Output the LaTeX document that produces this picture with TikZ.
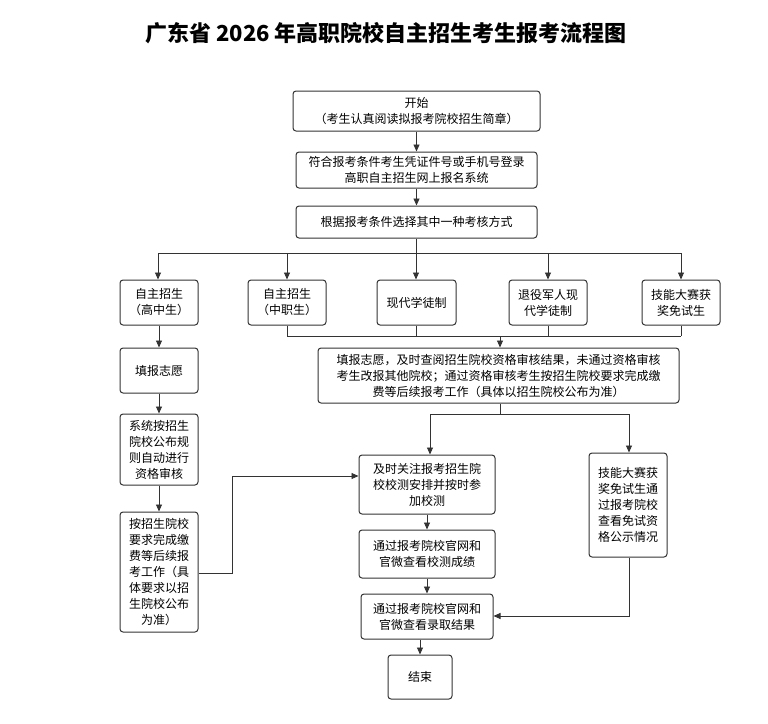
\documentclass[tikz,border=0pt]{standalone}
\usepackage{fontspec}
\setmainfont{Noto Sans CJK SC}
\usetikzlibrary{arrows.meta}
\begin{document}
\begin{tikzpicture}[x=1pt,y=-1pt,
  bx/.style={draw=black!80,line width=1pt,rounded corners=3pt,align=center,inner sep=0pt,font=\fontsize{12}{16}\selectfont},
  ar/.style={-{Triangle[length=7pt,width=6pt]},line width=0.9pt,draw=black!80},
  ln/.style={line width=0.9pt,draw=black!80}]
\useasboundingbox (0,0) rectangle (768,723);
\node[font=\bfseries\fontsize{22}{24}\selectfont] (title) at (386,33) {广东省 2026 年高职院校自主招生考生报考流程图};
\newcommand{\bbox}[6]{\node[bx,minimum width=#4-#2,minimum height=#5-#3] (#1) at ({(#2+#4)/2},{(#3+#5)/2}) {#6};}
\bbox{s}{293}{91}{540}{131}{开始\\（考生认真阅读拟报考院校招生简章）}
\bbox{b2}{296}{152}{537}{188}{符合报考条件考生凭证件号或手机号登录\\高职自主招生网上报名系统}
\bbox{b3}{296}{206}{537}{238}{根据报考条件选择其中一种考核方式}
\bbox{A}{120}{280}{198}{325}{自主招生\\（高中生）}
\bbox{B}{248}{280}{326}{325}{自主招生\\（中职生）}
\bbox{C}{377}{280}{456}{325}{现代学徒制}
\bbox{D}{509}{280}{587}{325}{退役军人现\\代学徒制}
\bbox{E}{642}{280}{720}{325}{技能大赛获\\奖免试生}
\bbox{big}{318}{348}{679}{403}{填报志愿，及时查阅招生院校资格审核结果，未通过资格审核\\考生改报其他院校；通过资格审核考生按招生院校要求完成缴\\费等后续报考工作（具体以招生院校公布为准）}
\bbox{L1}{120}{348}{198}{393}{填报志愿}
\bbox{L2}{120}{414}{198}{485}{系统按招生\\院校公布规\\则自动进行\\资格审核}
\bbox{L3}{120}{512}{198}{632}{按招生院校\\要求完成缴\\费等后续报\\考工作（具\\体要求以招\\生院校公布\\为准）}
\bbox{F}{359}{455}{495}{514}{及时关注报考招生院\\校校测安排并按时参\\加校测}
\bbox{G}{589}{453}{667}{557}{技能大赛获\\奖免试生通\\过报考院校\\查看免试资\\格公示情况}
\bbox{H}{359}{530}{495}{578}{通过报考院校官网和\\官微查看校测成绩}
\bbox{I}{361}{594}{493}{639}{通过报考院校官网和\\官微查看录取结果}
\bbox{end}{388}{655}{452}{699}{结束}
\draw[ar] (s) -- (b2);
\draw[ar] (b2) -- (b3);
\draw[ln] (b3.south) -- ++(0,15) coordinate (br);
\draw[ln] (158,253) -- (681,253);
\foreach \n/\x in {A/158,B/287,C/416,D/548,E/681}
  \draw[ar] (\x,253) -- (\n.north -| \x,0);
\foreach \n/\x in {B/287,C/416,D/548,E/681}
  \draw[ln] (\n.south -| \x,0) -- (\x,336);
\draw[ln] (287,336) -- (681,336);
\draw[ar] (500,336) -- (big.north -| 500,0);
\draw[ln] (big.south -| 500,0) -- (500,414);
\draw[ln] (430,414) -- (629,414);
\draw[ar] (430,414) -- (F.north -| 430,0);
\draw[ar] (629,414) -- (G.north -| 629,0);
\draw[ar] (A) -- (L1);
\draw[ar] (L1) -- (L2);
\draw[ar] (L2) -- (L3);
\draw[ar] (L3.east |- 0,573) -- (232,573) -- (232,476) -- (F.west |- 0,476);
\draw[ar] (F.south -| 427,0) -- (H.north -| 427,0);
\draw[ar] (H.south -| 427,0) -- (I.north -| 427,0);
\draw[ar] (I.south -| 420,0) -- (end.north -| 420,0);
\draw[ar] (G.south -| 629,0) -- (629,616) -- (I.east |- 0,616);
\end{tikzpicture}
\end{document}
